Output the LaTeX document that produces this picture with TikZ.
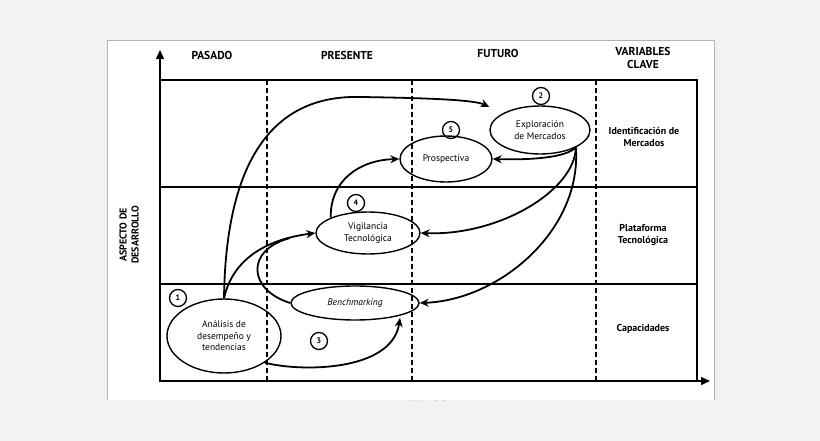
\documentclass[tikz,border=0pt]{standalone}
\usepackage{fontspec}
\setmainfont{PT Sans}
\usetikzlibrary{arrows.meta,shapes.geometric}
\begin{document}
\begin{tikzpicture}[x=1pt,y=-1pt,
  ell/.style={draw,line width=1.4pt,ellipse,inner sep=0pt},
  num/.style={draw,circle,line width=1.3pt,minimum size=17pt,inner sep=0pt,font=\fontsize{8}{9}\selectfont\bfseries},
  arr/.style={line width=1.8pt,-{Stealth[length=9pt,width=8pt]}},
  hdr/.style={font=\fontsize{11.5}{13}\selectfont\bfseries,align=center},
  lbl/.style={font=\fontsize{9.5}{11.5}\selectfont,align=center},
  vdash/.style={line width=1.2pt,dash pattern=on 5pt off 3pt}]
\useasboundingbox (0,0) rectangle (820,441);
\fill[black!5] (0,0) rectangle (820,441);
\fill[white] (107,40) rectangle (714,400);
\draw[black!30] (107,400) -- (107,40) -- (714,40) -- (714,400);
\begin{scope}
\clip (107,40) rectangle (714,400);
\node[hdr] (tiempo) at (428,405) {TIEMPO};
\end{scope}
% frame
\draw[line width=1.5pt] (160,80) rectangle (697,381);
\draw[line width=1.5pt] (160,187) -- (697,187) (160,284) -- (697,284);
\foreach \x in {267,412,596} \draw[vdash] (\x,80) -- (\x,381);
\draw[line width=1.5pt,-{Triangle[length=9pt,width=8pt]}] (160,381) -- (160,50);
\draw[line width=1.5pt,-{Triangle[length=9pt,width=8pt]}] (160,381) -- (710,381);
% headers
\node[hdr] (pasado) at (212,55) {PASADO};
\node[hdr] (presente) at (347,55) {PRESENTE};
\node[hdr] (futuro) at (498,53) {FUTURO};
\node[hdr] (varc) at (643,58) {VARIABLES\\CLAVE};
\node[hdr,rotate=90,font=\fontsize{10}{12}\selectfont\bfseries] (asp) at (129,235) {ASPECTO DE\\DESARROLLO};
\node[lbl,font=\fontsize{10}{12}\selectfont\bfseries] (r1) at (644,137) {Identificación de\\Mercados};
\node[lbl,font=\fontsize{10}{12}\selectfont\bfseries] (r2) at (643,235) {Plataforma\\Tecnológica};
\node[lbl,font=\fontsize{10}{12}\selectfont\bfseries] (r3) at (643,329) {Capacidades};
% ellipses
\node[ell,minimum width=114pt,minimum height=74pt,lbl] (an) at (224,336) {Análisis de\\desempeño y\\tendencias};
\node[ell,minimum width=128pt,minimum height=34pt,lbl] (be) at (355,303) {\itshape Benchmarking};
\node[ell,minimum width=104pt,minimum height=42pt,lbl] (vi) at (368,233) {Vigilancia\\Tecnológica};
\node[ell,minimum width=92pt,minimum height=46pt,lbl] (pr) at (446,159) {Prospectiva};
\node[ell,minimum width=100pt,minimum height=48pt,lbl] (ex) at (540,130) {Exploración\\de Mercados};
% numbers
\node[num] (n1) at (178,298) {1};
\node[num] (n2) at (541,96) {2};
\node[num] (n3) at (319,341) {3};
\node[num] (n4) at (356,203) {4};
\node[num] (n5) at (451,130) {5};
% arrows
\draw[arr] (an.north) .. controls (226,150) and (280,95) .. (360,97) .. controls (430,98) and (475,100) .. (ex.west|-0,107);
\draw[arr] (an.north) .. controls (232,262) and (262,240) .. (vi.west);
\draw[line width=1.8pt] (be.west) .. controls (248,290) and (245,250) .. (290,238);
\draw[arr] (an.south east) .. controls (300,372) and (392,372) .. (400,318);
\draw[arr] (vi.north west) .. controls (330,180) and (360,160) .. (pr.west);
\draw[arr] (ex.south east) .. controls (565,158) and (530,160) .. (pr.east);
\draw[arr] (ex.south east) .. controls (575,190) and (500,236) .. (vi.east);
\draw[arr] (ex.south east) .. controls (582,230) and (500,300) .. (be.east);
\end{tikzpicture}
\end{document}
